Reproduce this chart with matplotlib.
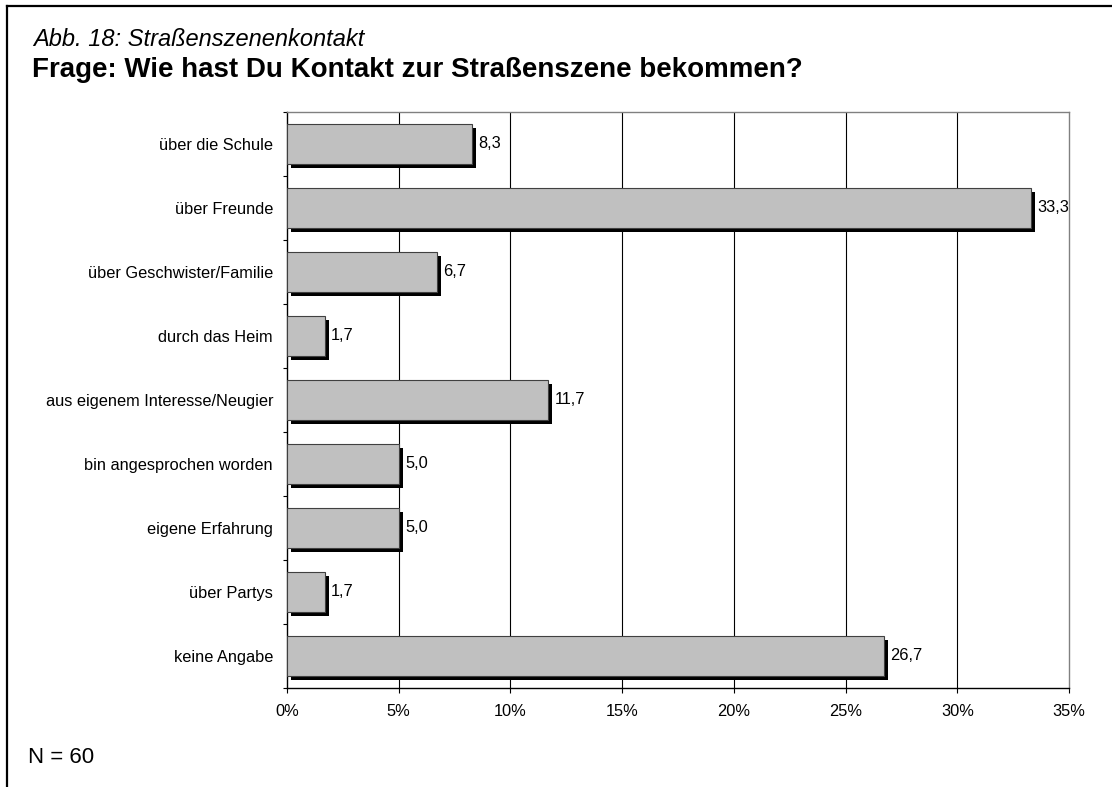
import matplotlib
matplotlib.use("Agg")
import matplotlib.pyplot as plt
import matplotlib.patheffects as pe
from matplotlib.lines import Line2D
import numpy as np

plt.rcParams['font.family'] = ['Liberation Sans', 'DejaVu Sans']

categories = ["über die Schule", "über Freunde", "über Geschwister/Familie",
              "durch das Heim", "aus eigenem Interesse/Neugier",
              "bin angesprochen worden", "eigene Erfahrung", "über Partys",
              "keine Angabe"]
values = [8.3, 33.3, 6.7, 1.7, 11.7, 5.0, 5.0, 1.7, 26.7]
xticks = [0, 5, 10, 15, 20, 25, 30, 35]
xtick_labels = ["0%", "5%", "10%", "15%", "20%", "25%", "30%", "35%"]
subtitle = "Abb. 18: Straßenszenenkontakt"
title = "Frage: Wie hast Du Kontakt zur Straßenszene bekommen?"
note = "N = 60"

W, H = 1112, 787
fig = plt.figure(figsize=(W / 100, H / 100), dpi=100)
ax = fig.add_axes([287 / W, 1 - 688 / H, (1069 - 287) / W, (688 - 112) / H])

n = len(categories)
y = np.arange(n)
bars = ax.barh(y, values, height=0.62, color='#C0C0C0', edgecolor='#404040',
               linewidth=0.8, zorder=3)
for b in bars:
    b.set_path_effects([pe.SimplePatchShadow(offset=(2.9, -2.9), shadow_rgbFace='black',
                                             alpha=1.0), pe.Normal()])
for yi, v in zip(y, values):
    ax.annotate(f"{v:.1f}".replace('.', ','), xy=(v, yi), xytext=(4.5, 0),
                textcoords='offset points', va='center', ha='left', fontsize=11.8, zorder=4)

ax.set_xlim(0, 35)
ax.set_ylim(n - 0.5, -0.5)
ax.set_xticks(xticks)
ax.set_xticklabels(xtick_labels, fontsize=11.8)
ax.set_yticks(y)
ax.set_yticklabels(categories, fontsize=11.8)
ax.set_yticks(np.arange(n + 1) - 0.5, minor=True)
ax.tick_params(axis='y', which='major', length=0, pad=10)
ax.tick_params(axis='y', which='minor', length=3, width=0.8, direction='out')
ax.tick_params(axis='x', which='major', length=3.5, width=0.8, direction='out', pad=8)

for xv in xticks[1:-1]:
    ax.axvline(xv, color='black', linewidth=0.8, zorder=1)

for s in ['left', 'bottom']:
    ax.spines[s].set_color('black')
    ax.spines[s].set_linewidth(1.0)
for s in ['top', 'right']:
    ax.spines[s].set_color('#808080')
    ax.spines[s].set_linewidth(1.0)

fig.text(33 / W, 1 - 46 / H, subtitle, fontsize=17, style='italic', va='baseline', ha='left')
fig.text(32 / W, 1 - 77 / H, title, fontsize=20, fontweight='bold', va='baseline', ha='left')
fig.text(28 / W, 1 - 763 / H, note, fontsize=16, va='baseline', ha='left')

fig.add_artist(Line2D([7 / W, 7 / W], [0, 1 - 6 / H], color='black', linewidth=1.6,
                      transform=fig.transFigure))
fig.add_artist(Line2D([7 / W, 1], [1 - 6 / H, 1 - 6 / H], color='black', linewidth=1.6,
                      transform=fig.transFigure))

fig.savefig("out.png", dpi=100)
